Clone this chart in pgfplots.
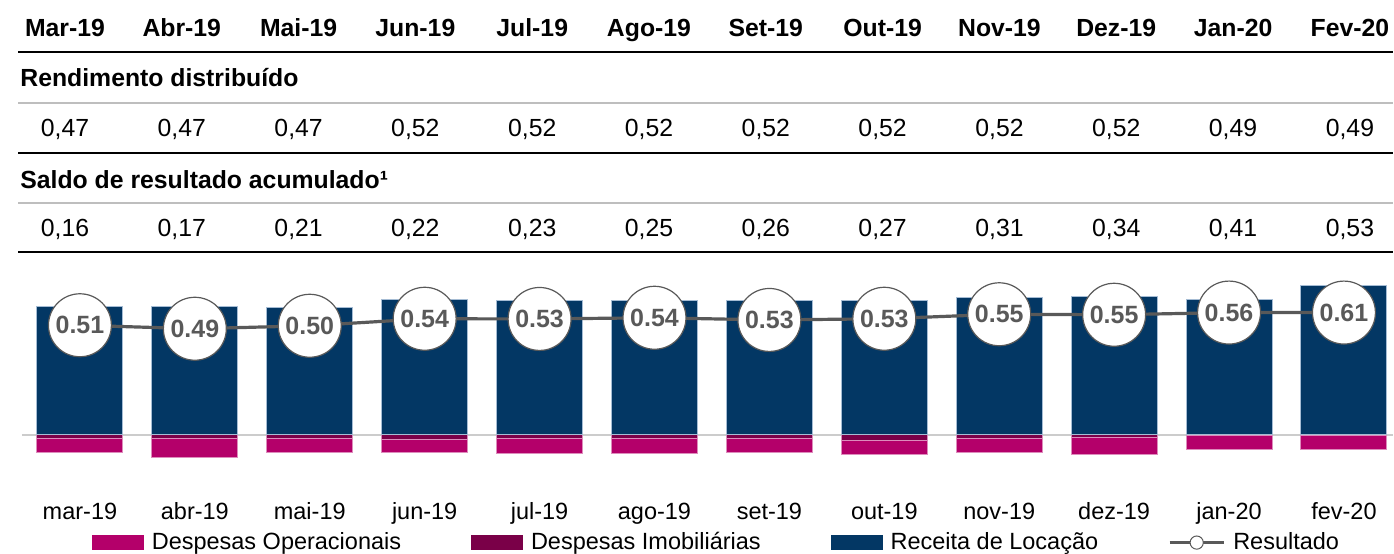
\documentclass[border=0pt]{standalone}
\usepackage{pgfplots}
\usepackage{pgfplotstable}
\pgfplotsset{compat=1.18}
\usepackage{fontspec}
\setmainfont{Liberation Sans}
\definecolor{receita}{RGB}{3,55,100}
\definecolor{oper}{RGB}{180,0,106}
\definecolor{imob}{RGB}{122,0,72}
\definecolor{linegray}{RGB}{89,89,89}
\definecolor{zerogray}{RGB}{204,204,204}
\definecolor{rulegray}{RGB}{190,190,190}

\pgfplotstableread{
x receita imob oper res label
0 128 4 13.7 109.5 0.51
1 128 4 18.7 106 0.49
2 127 4.3 14 109 0.50
3 135 5 13.3 116 0.54
4 134 4.3 14.4 115.8 0.53
5 134.3 4.3 14.4 117 0.54
6 134 4 14.3 114.8 0.53
7 134.3 6 14.3 116 0.53
8 137 4 14.3 120.5 0.55
9 138.3 3.3 17 120 0.55
10 135.7 0.7 14.6 122.2 0.56
11 149 0.5 14.8 122.2 0.61
}\data

\pgfplotstableread{
x hdr rend saldo
-0.130 Mar-19 0,47 0,16
0.886 Abr-19 0,47 0,17
1.903 Mai-19 0,47 0,21
2.919 Jun-19 0,52 0,22
3.936 Jul-19 0,52 0,23
4.952 Ago-19 0,52 0,25
5.969 Set-19 0,52 0,26
6.985 Out-19 0,52 0,27
8.002 Nov-19 0,52 0,31
9.018 Dez-19 0,52 0,34
10.035 Jan-20 0,49 0,41
11.052 Fev-20 0,49 0,53
}\tab

\begin{document}
\begin{tikzpicture}
\begin{axis}[
  scale only axis, width=697pt, height=277pt,
  xmin=-0.69565, xmax=11.42609, ymin=-119, ymax=435,
  clip=false,
  axis line style={draw=none},
  tick style={draw=none},
  ytick=\empty,
  xtick={0,...,11},
  xticklabels={mar-19,abr-19,mai-19,jun-19,jul-19,ago-19,set-19,out-19,nov-19,dez-19,jan-20,fev-20},
  xticklabel style={anchor=base, yshift=16.9pt, inner sep=0pt, font=\fontsize{11.75}{14}\selectfont},
  legend columns=4,
  legend style={at={(axis cs:0.104,-108)}, anchor=west, draw=none, fill=none,
    inner sep=0pt, outer sep=0pt, font=\fontsize{11.75}{14}\selectfont,
    nodes={inner sep=0pt},
    /tikz/every odd column/.append style={column sep=4pt},
    /tikz/every even column/.append style={column sep=35pt}},
]
% zero line
\draw[zerogray, line width=1pt] (axis cs:-0.5043,0) -- (axis cs:11.42609,0);

% bars
\addplot[ybar, bar width=0.748, bar shift=0pt, fill=oper, draw=oper!45!white, line width=0.5pt,
  legend image code/.code={\fill[oper] (0pt,-3.5pt) rectangle (25.5pt,3.5pt);}]
  table[x=x, y expr=-\thisrow{imob}-\thisrow{oper}]{\data};
\addlegendentry{Despesas Operacionais}
\addplot[ybar, bar width=0.748, bar shift=0pt, fill=imob, draw=oper!45!white, line width=0.5pt,
  legend image code/.code={\fill[imob] (0pt,-3.5pt) rectangle (25.5pt,3.5pt);}]
  table[x=x, y expr=-\thisrow{imob}]{\data};
\addlegendentry{Despesas Imobiliárias}
\addplot[ybar, bar width=0.748, bar shift=0pt, fill=receita, draw={rgb,255:red,165;green,188;blue,212}, line width=0.5pt,
  legend image code/.code={\fill[receita] (0pt,-3.5pt) rectangle (25.5pt,3.5pt);}]
  table[x=x, y=receita]{\data};
\addlegendentry{Receita de Locação}

% result line
\addplot[linegray, line width=1.6pt, mark=none,
  nodes near coords, point meta=explicit symbolic,
  nodes near coords style={circle, fill=white, draw=linegray, line width=0.6pt,
    minimum size=31.5pt, inner sep=0pt, anchor=center, text=linegray,
    font=\bfseries\fontsize{12.5}{14}\selectfont},
  legend image code/.code={\draw[linegray, line width=1.6pt] (0pt,0pt) -- (27pt,0pt);
    \draw[linegray, fill=white, line width=0.5pt] (13.5pt,0pt) circle (3.3pt);}]
  table[x=x, y=res, meta=label]{\data};
\addlegendentry{Resultado}

% table
\addplot[forget plot, draw=none, mark=none, nodes near coords, point meta=explicit symbolic,
  nodes near coords style={anchor=base, inner sep=0pt, text=black, font=\bfseries\fontsize{12.4}{14}\selectfont}]
  table[x=x, y expr=398, meta=hdr]{\tab};
\addplot[forget plot, draw=none, mark=none, nodes near coords, point meta=explicit symbolic,
  nodes near coords style={anchor=base, inner sep=0pt, text=black, font=\fontsize{12.4}{14}\selectfont}]
  table[x=x, y expr=298, meta=rend]{\tab};
\addplot[forget plot, draw=none, mark=none, nodes near coords, point meta=explicit symbolic,
  nodes near coords style={anchor=base, inner sep=0pt, text=black, font=\fontsize{12.4}{14}\selectfont}]
  table[x=x, y expr=198, meta=saldo]{\tab};

\node[anchor=base west, inner sep=0pt, font=\bfseries\fontsize{12.4}{14}\selectfont] at (axis cs:-0.5217,348) {Rendimento distribuído};
\node[anchor=base west, inner sep=0pt, font=\bfseries\fontsize{12.4}{14}\selectfont] at (axis cs:-0.5217,246) {Saldo de resultado acumulado¹};

\draw[black, line width=1.1pt] (axis cs:-0.539,383) -- (axis cs:11.42609,383);
\draw[rulegray, line width=1pt] (axis cs:-0.539,332) -- (axis cs:11.42609,332);
\draw[black, line width=1.1pt] (axis cs:-0.539,282) -- (axis cs:11.42609,282);
\draw[rulegray, line width=1pt] (axis cs:-0.539,232) -- (axis cs:11.42609,232);
\draw[black, line width=1.1pt] (axis cs:-0.539,183) -- (axis cs:11.42609,183);
\end{axis}
\end{tikzpicture}
\end{document}
